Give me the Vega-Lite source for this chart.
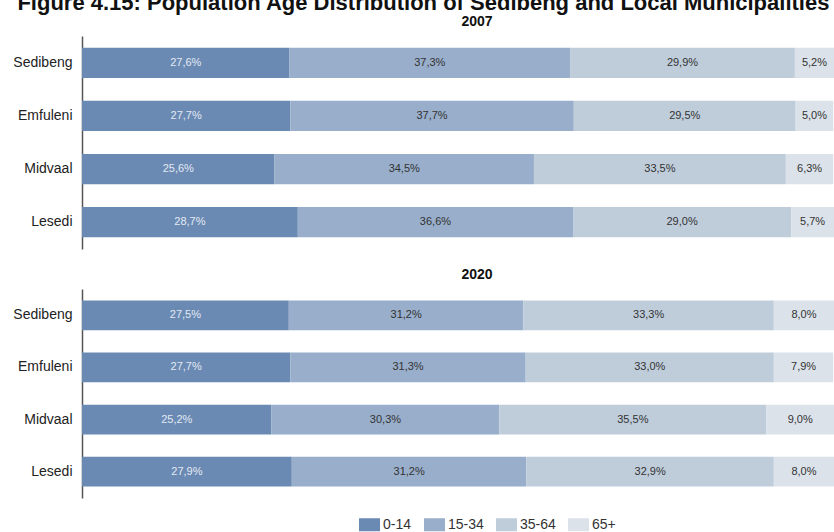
{
  "$schema": "https://vega.github.io/schema/vega-lite/v6.json",
  "padding": {"left": 12, "top": -8, "right": 0, "bottom": 0},
  "background": "white",
  "title": {
    "text": "Figure 4.15: Population Age Distribution of Sedibeng and Local Municipalities",
    "fontSize": 22,
    "font": "Liberation Sans",
    "fontWeight": "bold",
    "color": "#111111",
    "anchor": "middle",
    "offset": 0
  },
  "data": {
    "values": [
      {"year": 2007, "muni": "Sedibeng", "age": "0-14", "order": 1, "value": 27.6, "label": "27,6%"},
      {"year": 2007, "muni": "Sedibeng", "age": "15-34", "order": 2, "value": 37.3, "label": "37,3%"},
      {"year": 2007, "muni": "Sedibeng", "age": "35-64", "order": 3, "value": 29.9, "label": "29,9%"},
      {"year": 2007, "muni": "Sedibeng", "age": "65+", "order": 4, "value": 5.2, "label": "5,2%"},
      {"year": 2007, "muni": "Emfuleni", "age": "0-14", "order": 1, "value": 27.7, "label": "27,7%"},
      {"year": 2007, "muni": "Emfuleni", "age": "15-34", "order": 2, "value": 37.7, "label": "37,7%"},
      {"year": 2007, "muni": "Emfuleni", "age": "35-64", "order": 3, "value": 29.5, "label": "29,5%"},
      {"year": 2007, "muni": "Emfuleni", "age": "65+", "order": 4, "value": 5.0, "label": "5,0%"},
      {"year": 2007, "muni": "Midvaal", "age": "0-14", "order": 1, "value": 25.6, "label": "25,6%"},
      {"year": 2007, "muni": "Midvaal", "age": "15-34", "order": 2, "value": 34.5, "label": "34,5%"},
      {"year": 2007, "muni": "Midvaal", "age": "35-64", "order": 3, "value": 33.5, "label": "33,5%"},
      {"year": 2007, "muni": "Midvaal", "age": "65+", "order": 4, "value": 6.3, "label": "6,3%"},
      {"year": 2007, "muni": "Lesedi", "age": "0-14", "order": 1, "value": 28.7, "label": "28,7%"},
      {"year": 2007, "muni": "Lesedi", "age": "15-34", "order": 2, "value": 36.6, "label": "36,6%"},
      {"year": 2007, "muni": "Lesedi", "age": "35-64", "order": 3, "value": 29.0, "label": "29,0%"},
      {"year": 2007, "muni": "Lesedi", "age": "65+", "order": 4, "value": 5.7, "label": "5,7%"},
      {"year": 2020, "muni": "Sedibeng", "age": "0-14", "order": 1, "value": 27.5, "label": "27,5%"},
      {"year": 2020, "muni": "Sedibeng", "age": "15-34", "order": 2, "value": 31.2, "label": "31,2%"},
      {"year": 2020, "muni": "Sedibeng", "age": "35-64", "order": 3, "value": 33.3, "label": "33,3%"},
      {"year": 2020, "muni": "Sedibeng", "age": "65+", "order": 4, "value": 8.0, "label": "8,0%"},
      {"year": 2020, "muni": "Emfuleni", "age": "0-14", "order": 1, "value": 27.7, "label": "27,7%"},
      {"year": 2020, "muni": "Emfuleni", "age": "15-34", "order": 2, "value": 31.3, "label": "31,3%"},
      {"year": 2020, "muni": "Emfuleni", "age": "35-64", "order": 3, "value": 33.0, "label": "33,0%"},
      {"year": 2020, "muni": "Emfuleni", "age": "65+", "order": 4, "value": 7.9, "label": "7,9%"},
      {"year": 2020, "muni": "Midvaal", "age": "0-14", "order": 1, "value": 25.2, "label": "25,2%"},
      {"year": 2020, "muni": "Midvaal", "age": "15-34", "order": 2, "value": 30.3, "label": "30,3%"},
      {"year": 2020, "muni": "Midvaal", "age": "35-64", "order": 3, "value": 35.5, "label": "35,5%"},
      {"year": 2020, "muni": "Midvaal", "age": "65+", "order": 4, "value": 9.0, "label": "9,0%"},
      {"year": 2020, "muni": "Lesedi", "age": "0-14", "order": 1, "value": 27.9, "label": "27,9%"},
      {"year": 2020, "muni": "Lesedi", "age": "15-34", "order": 2, "value": 31.2, "label": "31,2%"},
      {"year": 2020, "muni": "Lesedi", "age": "35-64", "order": 3, "value": 32.9, "label": "32,9%"},
      {"year": 2020, "muni": "Lesedi", "age": "65+", "order": 4, "value": 8.0, "label": "8,0%"}
    ]
  },
  "spacing": 19,
  "vconcat": [
    {
      "title": {"text": "2007", "dx": 19},
      "width": 752,
      "height": 213,
      "transform": [{"filter": "datum.year == 2007"}],
      "layer": [
        {
          "mark": {"type": "bar"},
          "encoding": {
            "x": {"field": "value", "type": "quantitative", "stack": "zero", "scale": {"domain": [0, 100]}, "axis": null},
            "y": {"field": "muni", "type": "nominal", "sort": ["Sedibeng", "Emfuleni", "Midvaal", "Lesedi"], "scale": {"paddingInner": 0.43, "paddingOuter": 0.22}, "axis": {"title": null}},
            "color": {"field": "age", "type": "nominal", "scale": {"domain": ["0-14", "15-34", "35-64", "65+"], "range": ["#6a8ab4", "#98aecb", "#bfcddb", "#dbe2ea"]}, "legend": {"title": null, "orient": "none", "legendX": 277, "legendY": 478}},
            "order": {"field": "order", "type": "quantitative"}
          }
        },
        {
          "transform": [
            {"stack": "value", "groupby": ["muni"], "sort": [{"field": "order", "order": "ascending"}], "as": ["x0", "x1"]},
            {"calculate": "(datum.x0 + datum.x1) / 2", "as": "mid"}
          ],
          "mark": {"type": "text", "fontSize": 11, "font": "Liberation Sans"},
          "encoding": {
            "x": {"field": "mid", "type": "quantitative", "scale": {"domain": [0, 100]}, "axis": null},
            "y": {"field": "muni", "type": "nominal", "sort": ["Sedibeng", "Emfuleni", "Midvaal", "Lesedi"]},
            "text": {"field": "label"},
            "color": {"condition": {"test": "datum.age == '0-14'", "value": "#e3e9f2"}, "value": "#333333"}
          }
        }
      ]
    },
    {
      "title": {"text": "2020", "dx": 19},
      "width": 752,
      "height": 209,
      "transform": [{"filter": "datum.year == 2020"}],
      "layer": [
        {
          "mark": {"type": "bar"},
          "encoding": {
            "x": {"field": "value", "type": "quantitative", "stack": "zero", "scale": {"domain": [0, 100]}, "axis": null},
            "y": {"field": "muni", "type": "nominal", "sort": ["Sedibeng", "Emfuleni", "Midvaal", "Lesedi"], "scale": {"paddingInner": 0.43, "paddingOuter": 0.22}, "axis": {"title": null}},
            "color": {"field": "age", "type": "nominal", "scale": {"domain": ["0-14", "15-34", "35-64", "65+"], "range": ["#6a8ab4", "#98aecb", "#bfcddb", "#dbe2ea"]}, "legend": {"title": null, "orient": "none", "legendX": 277, "legendY": 478}},
            "order": {"field": "order", "type": "quantitative"}
          }
        },
        {
          "transform": [
            {"stack": "value", "groupby": ["muni"], "sort": [{"field": "order", "order": "ascending"}], "as": ["x0", "x1"]},
            {"calculate": "(datum.x0 + datum.x1) / 2", "as": "mid"}
          ],
          "mark": {"type": "text", "fontSize": 11, "font": "Liberation Sans"},
          "encoding": {
            "x": {"field": "mid", "type": "quantitative", "scale": {"domain": [0, 100]}, "axis": null},
            "y": {"field": "muni", "type": "nominal", "sort": ["Sedibeng", "Emfuleni", "Midvaal", "Lesedi"]},
            "text": {"field": "label"},
            "color": {"condition": {"test": "datum.age == '0-14'", "value": "#e3e9f2"}, "value": "#333333"}
          }
        }
      ]
    }
  ],
  "config": {
    "view": {"stroke": null},
    "font": "Liberation Sans",
    "title": {"fontSize": 14, "font": "Liberation Sans", "fontWeight": "bold", "color": "#111111", "offset": 7},
    "axisY": {
      "domain": true,
      "domainColor": "#555555",
      "domainWidth": 1.5,
      "ticks": false,
      "grid": false,
      "labelFont": "Liberation Sans",
      "labelFontSize": 14,
      "labelColor": "#222222",
      "labelPadding": 10
    },
    "legend": {
      "direction": "horizontal",
      "labelFont": "Liberation Sans",
      "labelFontSize": 14,
      "labelColor": "#333333",
      "symbolType": "M-1,-0.62H1V0.62H-1Z",
      "symbolSize": 441,
      "symbolStrokeWidth": 0,
      "symbolOpacity": 1,
      "labelOffset": 3,
      "columnPadding": 12
    }
  }
}
